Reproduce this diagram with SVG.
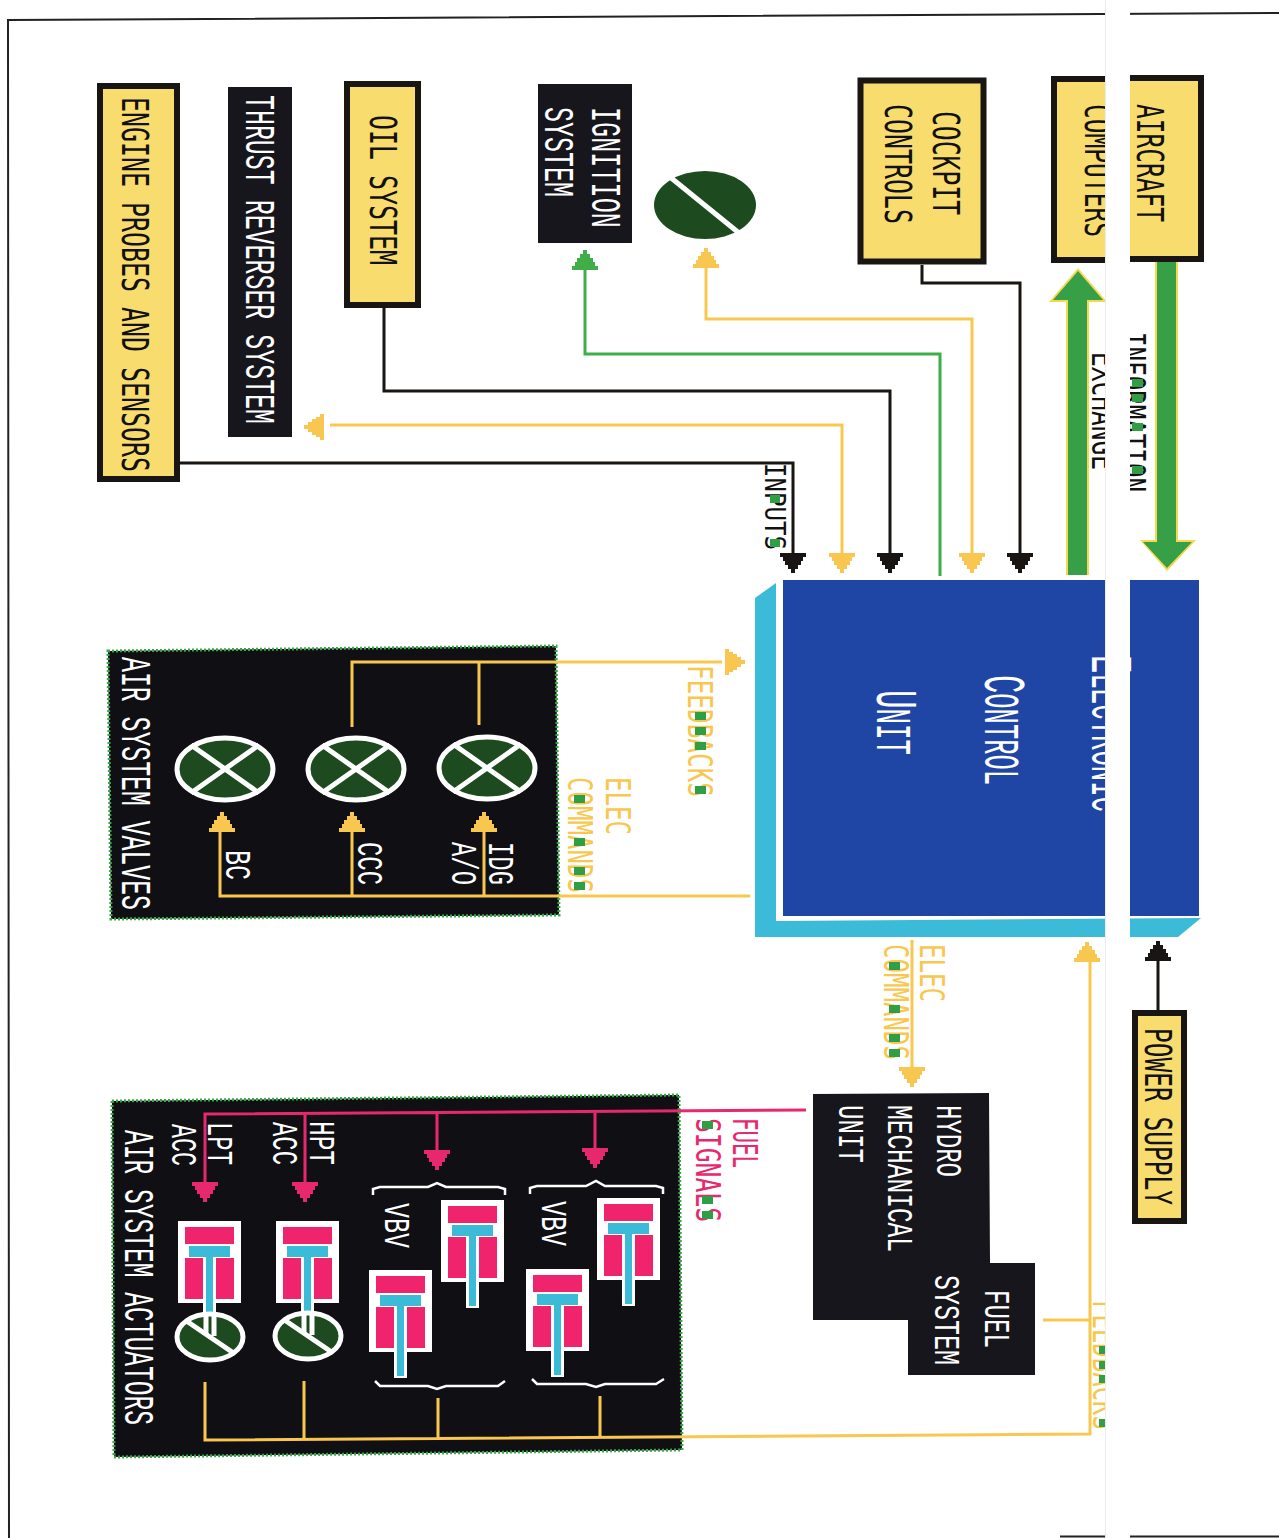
<svg xmlns="http://www.w3.org/2000/svg" xmlns:xlink="http://www.w3.org/1999/xlink" width="1279" height="1538" viewBox="0 0 1279 1538">
<style>
text{font-family:"DejaVu Sans Mono","Liberation Mono",monospace;}
.f28{font-size:38px}.f24{font-size:33px}.f20{font-size:28px}
.k{fill:#111}.w{fill:#fff;font-family:"Liberation Mono","DejaVu Sans Mono",monospace}.y{fill:#f9c74f}.p{fill:#e8286e}
.f28.w{font-size:43px}.f24.w{font-size:37px}
.box{fill:#f9dc6e;stroke:#181512;stroke-width:6}
.blk{fill:#16161c}
.panel{fill:#101014;stroke:#3ba54a;stroke-width:3;stroke-dasharray:2 2}
.big{font-family:"Liberation Mono","DejaVu Sans Mono",monospace;fill:#fff}
.lk,.ly,.lg,.lp{fill:none;stroke-linejoin:miter}
.lk{stroke:#181512;stroke-width:3}.ly{stroke:#f9c74f;stroke-width:3}.lg{stroke:#3fae49;stroke-width:3}.lp{stroke:#e8286e;stroke-width:3}
.hk{fill:#181512}.hy{fill:#f9c74f}.hg{fill:#3fae49}.hp{fill:#e8286e}
.valve{fill:#1d4a1f;stroke:#fff;stroke-width:5}
.cross{stroke:#fff;stroke-width:5;fill:none}
.cw{fill:#fff}.cp{fill:#f0246d}.cc{fill:#3cbbd8}
.brace{fill:none;stroke:#fff;stroke-width:2.5}
.dot{fill:#2f9e44}
</style>
<defs>
<path id="ah" d="M-2 0L-2-4L-5-4L-5-8L-8-8L-8-12L-10-12L-10-16L-13-16L-13-20L13-20L13-16L10-16L10-12L8-12L8-8L5-8L5-4L2-4L2 0Z"/>
<g id="act">
<rect class="cw" x="-31" y="0" width="63" height="82"/>
<rect class="cp" x="-24" y="6" width="49" height="17"/>
<rect class="cc" x="-20" y="25" width="41" height="11"/>
<rect class="cp" x="-24" y="37" width="19" height="41"/>
<rect class="cp" x="6" y="37" width="19" height="41"/>
<rect class="cw" x="-6" y="36" width="13" height="72"/>
<rect class="cc" x="-3" y="36" width="7" height="70"/>
</g>
<g id="valve">
<ellipse class="valve" rx="48" ry="31"/>
<path class="cross" d="M-34-24L34 24M34-24L-34 24"/>
</g>
<g id="damper">
<ellipse class="valve" rx="33" ry="23"/>
<path class="cross" d="M-25-17L25 17"/>
</g>
</defs>
<rect width="1279" height="1538" fill="#fff"/>
<g id="frame" fill="none" stroke="#222" stroke-width="2"><path d="M9 1538L8 20L1279 13"/><path d="M1060 1536.5H1279"/></g>

<g id="node-engine-probes"><rect class="box" x="100" y="86" width="77" height="393"/><text class="f28 k" transform="translate(122,97) rotate(90)" textLength="375" lengthAdjust="spacingAndGlyphs">ENGINE PROBES AND SENSORS</text></g>
<g id="node-thrust-reverser"><rect class="blk" x="228" y="87" width="64" height="350"/><text class="f28 w" transform="translate(246,95) rotate(90)" textLength="329" lengthAdjust="spacingAndGlyphs">THRUST REVERSER SYSTEM</text></g>
<g id="node-oil"><rect class="box" x="347" y="84" width="71" height="221"/><text class="f28 k" transform="translate(370,115) rotate(90)" textLength="150" lengthAdjust="spacingAndGlyphs">OIL SYSTEM</text></g>
<g id="node-ignition"><rect class="blk" x="538" y="84" width="94" height="159"/><text class="f28 w" transform="translate(592,107) rotate(90)" textLength="121" lengthAdjust="spacingAndGlyphs">IGNITION</text><text class="f28 w" transform="translate(545,107) rotate(90)" textLength="90" lengthAdjust="spacingAndGlyphs">SYSTEM</text></g>
<g id="node-ignition-valve"><ellipse cx="705" cy="205" rx="51" ry="34" fill="#1d4a1f"/><path d="M670 177L739 233" stroke="#fff" stroke-width="5"/></g>
<g id="node-cockpit"><rect class="box" x="860.5" y="80.5" width="123" height="181" stroke-width="7"/><text class="f28 k" transform="translate(933,111) rotate(90)" textLength="104" lengthAdjust="spacingAndGlyphs">COCKPIT</text><text class="f28 k" transform="translate(885,104) rotate(90)" textLength="120" lengthAdjust="spacingAndGlyphs">CONTROLS</text></g>
<g id="node-computers"><rect class="box" x="1054" y="79" width="70" height="181"/><text class="f28 k" transform="translate(1085,104) rotate(90)" textLength="133" lengthAdjust="spacingAndGlyphs">COMPUTERS</text></g>
<g id="node-aircraft"><rect class="box" x="1112" y="78" width="89" height="181"/><text class="f28 k" transform="translate(1137,104) rotate(90)" textLength="118" lengthAdjust="spacingAndGlyphs">AIRCRAFT</text></g>

<g id="node-ecu">
<polygon class="cc" points="755,598 776,583 776,921 1201,918 1178,937 755,937"/>
<rect x="783" y="580" width="416" height="336" fill="#2046a5"/>
<text class="big" transform="translate(1092,655) rotate(90)" textLength="157" lengthAdjust="spacingAndGlyphs"><tspan font-size="60">E</tspan><tspan font-size="50">LECTRONIC</tspan></text>
<text class="big" transform="translate(985,675) rotate(90)" textLength="110" lengthAdjust="spacingAndGlyphs"><tspan font-size="60">C</tspan><tspan font-size="50">ONTROL</tspan></text>
<text class="big" transform="translate(877,690) rotate(90)" textLength="65" lengthAdjust="spacingAndGlyphs"><tspan font-size="60">U</tspan><tspan font-size="50">NIT</tspan></text>
</g>

<g id="node-air-valves">
<polygon class="panel" points="108,651 556,646 559,915 111,919"/>
<text class="f28 w" transform="translate(122,657) rotate(90)" textLength="253" lengthAdjust="spacingAndGlyphs">AIR SYSTEM VALVES</text>
<use xlink:href="#valve" href="#valve" x="225" y="769"/><use xlink:href="#valve" href="#valve" x="356" y="769"/><use xlink:href="#valve" href="#valve" x="487" y="768"/>
<text class="f24 w" transform="translate(226,850) rotate(90)" textLength="30" lengthAdjust="spacingAndGlyphs">BC</text>
<text class="f24 w" transform="translate(358,842) rotate(90)" textLength="43" lengthAdjust="spacingAndGlyphs">CCC</text>
<text class="f24 w" transform="translate(452,842) rotate(90)" textLength="43" lengthAdjust="spacingAndGlyphs">A/O</text>
<text class="f24 w" transform="translate(489,842) rotate(90)" textLength="43" lengthAdjust="spacingAndGlyphs">IDG</text>
</g>

<g id="node-hmu">
<polygon class="blk" points="813,1094 989,1093 990,1263 1035,1263 1035,1375 908,1375 908,1320 813,1320"/>
<text class="f24 w" transform="translate(937,1105) rotate(90)" textLength="72" lengthAdjust="spacingAndGlyphs">HYDRO</text>
<text class="f24 w" transform="translate(888,1105) rotate(90)" textLength="147" lengthAdjust="spacingAndGlyphs">MECHANICAL</text>
<text class="f24 w" transform="translate(839,1105) rotate(90)" textLength="58" lengthAdjust="spacingAndGlyphs">UNIT</text>
<text class="f24 w" transform="translate(985,1290) rotate(90)" textLength="58" lengthAdjust="spacingAndGlyphs">FUEL</text>
<text class="f24 w" transform="translate(935,1275) rotate(90)" textLength="90" lengthAdjust="spacingAndGlyphs">SYSTEM</text>
</g>

<g id="node-air-actuators">
<polygon class="panel" points="112,1101 679,1095 682,1450 114,1457"/>
<text class="f28 w" transform="translate(125,1130) rotate(90)" textLength="295" lengthAdjust="spacingAndGlyphs">AIR SYSTEM ACTUATORS</text>
<text class="f24 w" transform="translate(208,1122) rotate(90)" textLength="43" lengthAdjust="spacingAndGlyphs">LPT</text>
<text class="f24 w" transform="translate(172,1124) rotate(90)" textLength="42" lengthAdjust="spacingAndGlyphs">ACC</text>
<text class="f24 w" transform="translate(310,1121) rotate(90)" textLength="44" lengthAdjust="spacingAndGlyphs">HPT</text>
<text class="f24 w" transform="translate(273,1122) rotate(90)" textLength="43" lengthAdjust="spacingAndGlyphs">ACC</text>
<text class="f24 w" transform="translate(385,1203) rotate(90)" textLength="45" lengthAdjust="spacingAndGlyphs">VBV</text>
<text class="f24 w" transform="translate(542,1201) rotate(90)" textLength="45" lengthAdjust="spacingAndGlyphs">VBV</text>
<use xlink:href="#act" href="#act" x="209" y="1221"/><use xlink:href="#act" href="#act" x="307" y="1221"/>
<use xlink:href="#act" href="#act" x="472" y="1200"/><use xlink:href="#act" href="#act" x="400" y="1270"/>
<use xlink:href="#act" href="#act" x="628" y="1198"/><use xlink:href="#act" href="#act" x="557" y="1269"/>
<use xlink:href="#damper" href="#damper" x="210" y="1337"/><use xlink:href="#damper" href="#damper" x="308" y="1336"/>
<path class="cross" stroke-width="2" d="M206 1314V1334M214 1314V1336M304 1314V1333M312 1314V1335"/>
<path class="brace" d="M373 1195V1189L380 1187H428L437 1183L446 1187H498L505 1189V1195"/>
<path class="brace" d="M530 1194V1188L537 1186H586L596 1181L605 1186H656L663 1188V1194"/>
<path class="brace" d="M375 1381L380 1386H428L437 1389L446 1386H498L505 1381"/>
<path class="brace" d="M532 1379L537 1384H586L596 1387L605 1384H656L664 1379"/>
</g>

<g id="node-power-supply"><rect class="box" x="1135" y="1013" width="49" height="208"/><text class="f28 k" transform="translate(1145,1028) rotate(90)" textLength="177" lengthAdjust="spacingAndGlyphs">POWER SUPPLY</text></g>

<g id="connectors">
<path class="lk" d="M180 463H793V556"/>
<path class="ly" d="M842 556V425H330"/>
<path class="lk" d="M384 308V391H890V556"/>
<path class="lg" d="M940 576V354H585V268"/>
<path class="ly" d="M972 556V319H706V264"/>
<path class="lk" d="M922 265V283H1020V556"/>
<use class="hk" href="#ah" xlink:href="#ah" transform="translate(793,573)"/>
<use class="hy" href="#ah" xlink:href="#ah" transform="translate(842,573)"/>
<use class="hk" href="#ah" xlink:href="#ah" transform="translate(890,573)"/>
<use class="hy" href="#ah" xlink:href="#ah" transform="translate(972,573)"/>
<use class="hk" href="#ah" xlink:href="#ah" transform="translate(1020,573)"/>
<use class="hy" href="#ah" xlink:href="#ah" transform="translate(304,427) rotate(90)"/>
<use class="hg" href="#ah" xlink:href="#ah" transform="translate(585,250) rotate(180)"/>
<use class="hy" href="#ah" xlink:href="#ah" transform="translate(706,248) rotate(180)"/>
<polygon points="1155,262 1178,262 1178,540 1196,540 1167,571 1140,540 1155,540" fill="#f4d84f"/>
<polygon points="1157,262 1176,262 1176,542 1192,542 1167,568 1143,542 1157,542" fill="#379f45"/>
<polygon points="1066,575 1089,575 1089,302 1107,302 1078,268 1049,302 1066,302" fill="#f4d84f"/>
<polygon points="1068,575 1087,575 1087,300 1103,300 1078,271 1053,300 1068,300" fill="#379f45"/>
<path class="ly" d="M352 727V662H722M479 725V662"/>
<use class="hy" href="#ah" xlink:href="#ah" transform="translate(745,662) rotate(-90)"/>
<path class="ly" d="M750 896H220V832M352 896V832M484 896V832"/>
<use class="hy" href="#ah" xlink:href="#ah" transform="translate(222,812) rotate(180)"/>
<use class="hy" href="#ah" xlink:href="#ah" transform="translate(352,812) rotate(180)"/>
<use class="hy" href="#ah" xlink:href="#ah" transform="translate(484,812) rotate(180)"/>
<path class="ly" d="M912 940V1070"/>
<use class="hy" href="#ah" xlink:href="#ah" transform="translate(912,1087)"/>
<path class="ly" d="M205 1382V1440L1090 1434V960M304 1381V1440M438 1398V1438M600 1396V1437M1043 1320H1090"/>
<use class="hy" href="#ah" xlink:href="#ah" transform="translate(1087,942) rotate(180)"/>
<path class="lk" d="M1158 1010V958"/>
<use class="hk" href="#ah" xlink:href="#ah" transform="translate(1158,941) rotate(180)"/>
<path class="lp" d="M806 1110L205 1114V1185M305 1113V1185M437 1112V1152M595 1111V1150"/>
<use class="hp" href="#ah" xlink:href="#ah" transform="translate(205,1202)"/>
<use class="hp" href="#ah" xlink:href="#ah" transform="translate(305,1202)"/>
<use class="hp" href="#ah" xlink:href="#ah" transform="translate(437,1170)"/>
<use class="hp" href="#ah" xlink:href="#ah" transform="translate(595,1168)"/>
</g>

<g id="labels">
<text class="f20 k" transform="translate(765,463) rotate(90)" textLength="87" lengthAdjust="spacingAndGlyphs">INPUTS</text>
<rect class="dot" x="770" y="495" width="10" height="8"/><rect class="dot" x="770" y="539" width="10" height="8"/>
<text class="f24 k" transform="translate(1121,332) rotate(90)" textLength="160" lengthAdjust="spacingAndGlyphs">INFORMATION</text>
<rect class="dot" x="1132" y="379" width="11" height="8"/><rect class="dot" x="1132" y="394" width="11" height="8"/><rect class="dot" x="1132" y="423" width="11" height="8"/><rect class="dot" x="1132" y="466" width="11" height="8"/>
<text class="f24 k" transform="translate(1092,352) rotate(90)" textLength="118" lengthAdjust="spacingAndGlyphs">EXCHANGE</text>
<text class="f24 y" transform="translate(688,665) rotate(90)" textLength="132" lengthAdjust="spacingAndGlyphs">FEEDBACKS</text>
<rect class="dot" x="695" y="712" width="11" height="8"/><rect class="dot" x="695" y="727" width="11" height="8"/><rect class="dot" x="695" y="742" width="11" height="8"/><rect class="dot" x="695" y="786" width="11" height="8"/>
<text class="f24 y" transform="translate(606,777) rotate(90)" textLength="58" lengthAdjust="spacingAndGlyphs">ELEC</text>
<text class="f24 y" transform="translate(568,777) rotate(90)" textLength="116" lengthAdjust="spacingAndGlyphs">COMMANDS</text>
<rect class="dot" x="574" y="795" width="11" height="8"/><rect class="dot" x="574" y="838" width="11" height="8"/><rect class="dot" x="574" y="867" width="11" height="8"/><rect class="dot" x="574" y="882" width="11" height="8"/>
<text class="f24 y" transform="translate(920,944) rotate(90)" textLength="58" lengthAdjust="spacingAndGlyphs">ELEC</text>
<text class="f24 y" transform="translate(884,944) rotate(90)" textLength="116" lengthAdjust="spacingAndGlyphs">COMMANDS</text>
<rect class="dot" x="889" y="962" width="11" height="8"/><rect class="dot" x="889" y="1005" width="11" height="8"/><rect class="dot" x="889" y="1034" width="11" height="8"/><rect class="dot" x="889" y="1049" width="11" height="8"/>
<text class="f24 y" transform="translate(1093,1300) rotate(90)" textLength="130" lengthAdjust="spacingAndGlyphs">FEEDBACKS</text>
<rect class="dot" x="1099" y="1346" width="7" height="8"/><rect class="dot" x="1099" y="1361" width="7" height="8"/><rect class="dot" x="1099" y="1375" width="7" height="8"/><rect class="dot" x="1099" y="1419" width="7" height="8"/>
<text class="f24 p" transform="translate(733,1118) rotate(90)" textLength="50" lengthAdjust="spacingAndGlyphs">FUEL</text>
<text class="f24 p" transform="translate(696,1118) rotate(90)" textLength="104" lengthAdjust="spacingAndGlyphs">SIGNALS</text>
<rect class="dot" x="702" y="1121" width="11" height="8"/><rect class="dot" x="702" y="1196" width="11" height="8"/><rect class="dot" x="702" y="1211" width="11" height="8"/>
</g>

<rect id="scan-gap" x="1106" y="0" width="24" height="1538" fill="#fff"/>
<path d="M1105.5 0V1538" stroke="#ececec" stroke-width="1"/>
</svg>
